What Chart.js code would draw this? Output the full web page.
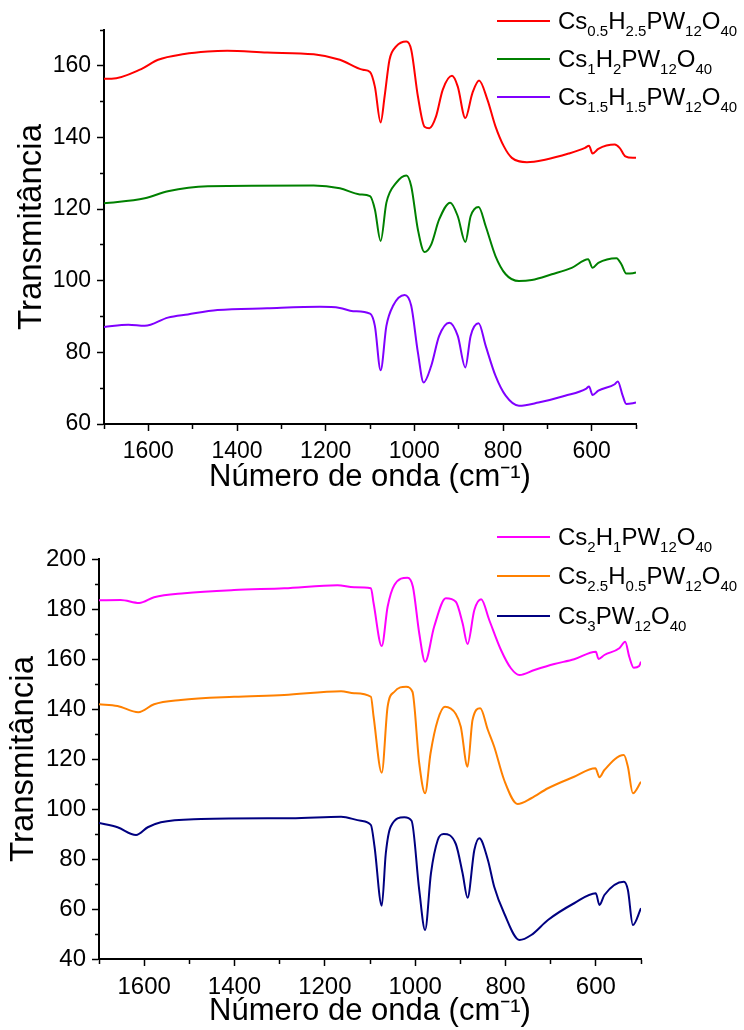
<!DOCTYPE html>
<html>
<head>
<meta charset="utf-8">
<script src="https://cdn.jsdelivr.net/npm/chart.js@4.4.0/dist/chart.umd.min.js"></script>
<style>
  body { margin: 0; background: #fff; font-family: "Liberation Sans", Arial, sans-serif; }
  #wrap { position: relative; width: 744px; height: 1030px; overflow: hidden; }
  canvas { position: absolute; left: 0; }
  #top { top: 0; }
  #bottom { top: 510px; }
  .legend { position: absolute; left: 497px; }
  .row { display: flex; align-items: center; font-size: 24px; color: #000; white-space: nowrap; }
  .swatch { width: 53px; height: 2px; margin-right: 8px; }
  sub { font-size: 15px; vertical-align: -7px; line-height: 0; }
</style>
</head>
<body>
<div id="wrap">
  <canvas id="top" width="744" height="505"></canvas>
  <canvas id="bottom" width="744" height="520"></canvas>
  <div class="legend" id="legTop" style="top:2px"></div>
  <div class="legend" id="legBottom" style="top:517px"></div>
</div>
<script>
// axis ticks
const xTickLabels = [1600, 1400, 1200, 1000, 800, 600];
const yTickLabelsTop = [60, 80, 100, 120, 140, 160];
const yTickLabelsBottom = [40, 60, 80, 100, 120, 140, 160, 180, 200];

// series names (legend, with subscripts)
const namesTop = [
  'Cs<sub>0.5</sub>H<sub>2.5</sub>PW<sub>12</sub>O<sub>40</sub>',
  'Cs<sub>1</sub>H<sub>2</sub>PW<sub>12</sub>O<sub>40</sub>',
  'Cs<sub>1.5</sub>H<sub>1.5</sub>PW<sub>12</sub>O<sub>40</sub>'
];
const namesBottom = [
  'Cs<sub>2</sub>H<sub>1</sub>PW<sub>12</sub>O<sub>40</sub>',
  'Cs<sub>2.5</sub>H<sub>0.5</sub>PW<sub>12</sub>O<sub>40</sub>',
  'Cs<sub>3</sub>PW<sub>12</sub>O<sub>40</sub>'
];
const colorsTop = ['#ff0000', '#008000', '#8000ff'];
const colorsBottom = ['#ff00ff', '#ff8000', '#000080'];

// Cs0.5H2.5PW12O40
const wnCs05 = [1700, 1683, 1616, 1578, 1519, 1466, 1422, 1332, 1227, 1168, 1116, 1100, 1089, 1076, 1067, 1056, 1041, 1018, 1007, 992, 977, 966, 951, 936, 915, 902, 885, 869, 854, 835, 817, 798, 780, 746, 705, 652, 615, 606, 598, 585, 548, 537, 524, 507, 500];
const tCs05 = [156.4, 156.4, 159.1, 161.7, 163.3, 164.0, 164.2, 163.7, 163.2, 161.7, 158.9, 158.3, 154.2, 144.2, 151.5, 161.7, 165.4, 166.8, 164.5, 151.5, 143.0, 142.6, 145.9, 153.3, 157.2, 154.2, 145.4, 152.4, 155.9, 150.5, 143.1, 137.5, 134.3, 133.1, 133.8, 135.5, 137.1, 137.7, 135.5, 136.8, 138.0, 137.1, 134.7, 134.3, 134.3];

// Cs1H2PW12O40
const wnCs1 = [1700, 1608, 1556, 1466, 1227, 1168, 1123, 1100, 1089, 1076, 1063, 1041, 1018, 1007, 992, 977, 962, 944, 919, 902, 885, 873, 855, 839, 817, 794, 764, 735, 690, 645, 608, 598, 585, 544, 533, 522, 507, 500];
const tCs1 = [121.6, 123.0, 125.0, 126.4, 126.6, 125.8, 124.1, 123.6, 119.9, 111.1, 121.8, 127.3, 129.4, 126.4, 114.3, 108.0, 110.1, 117.1, 121.8, 118.0, 110.8, 118.0, 120.6, 115.2, 106.9, 101.8, 99.9, 100.2, 101.8, 103.6, 106.0, 103.6, 105.0, 106.3, 104.6, 102.0, 102.1, 102.3];

// Cs1.5H1.5PW12O40
const wnCs15 = [1700, 1645, 1608, 1556, 1511, 1444, 1332, 1213, 1168, 1138, 1100, 1089, 1076, 1063, 1048, 1022, 1007, 992, 979, 962, 944, 921, 902, 885, 873, 855, 839, 817, 794, 764, 720, 660, 612, 606, 598, 585, 548, 541, 530, 522, 507, 500];
const tCs15 = [87.1, 87.7, 87.4, 89.7, 90.6, 91.8, 92.3, 92.7, 92.4, 91.5, 90.8, 87.4, 75.0, 87.4, 93.0, 96.0, 93.0, 80.0, 71.6, 76.2, 84.6, 88.3, 84.6, 75.8, 84.6, 88.1, 81.8, 73.5, 67.9, 65.1, 66.0, 67.9, 69.9, 70.5, 68.1, 69.3, 71.1, 71.9, 67.9, 65.6, 65.8, 66.0];

// Cs2H1PW12O40
const wnCs2 = [1700, 1652, 1611, 1578, 1511, 1401, 1290, 1172, 1135, 1098, 1092, 1074, 1061, 1046, 1017, 1005, 991, 978, 958, 932, 910, 895, 884, 869, 854, 836, 810, 788, 769, 736, 692, 648, 600, 594, 581, 548, 535, 526, 516, 504, 500];
const tCs2 = [183.5, 183.6, 182.4, 184.7, 186.3, 187.6, 188.3, 189.5, 188.7, 188.3, 182.3, 165.2, 180.9, 189.6, 192.5, 188.9, 170.3, 158.9, 172.9, 184.3, 182.9, 174.3, 166.0, 179.6, 183.9, 175.6, 163.6, 156.3, 153.6, 155.6, 158.0, 159.9, 162.9, 160.0, 161.6, 164.3, 166.9, 160.9, 156.5, 157.2, 158.9];

// Cs2.5H0.5PW12O40
const wnCs25 = [1700, 1659, 1613, 1578, 1519, 1401, 1290, 1164, 1135, 1098, 1092, 1074, 1061, 1046, 1020, 1006, 991, 978, 966, 950, 934, 910, 899, 884, 873, 856, 839, 825, 803, 773, 743, 706, 648, 601, 592, 581, 538, 529, 518, 500];
const tCs25 = [141.9, 141.2, 138.7, 141.9, 143.6, 144.9, 145.6, 147.1, 146.3, 144.9, 136.9, 114.5, 140.9, 146.9, 148.9, 146.9, 118.3, 106.3, 122.3, 135.6, 140.9, 138.0, 132.9, 116.9, 135.6, 140.3, 131.6, 124.9, 111.6, 102.0, 104.3, 108.3, 112.9, 116.3, 112.7, 115.6, 121.6, 116.9, 106.3, 110.9];

// Cs3PW12O40
const wnCs3 = [1700, 1659, 1618, 1592, 1563, 1474, 1327, 1275, 1164, 1120, 1098, 1090, 1074, 1065, 1054, 1024, 1008, 991, 978, 965, 950, 937, 910, 895, 884, 869, 858, 839, 825, 803, 769, 743, 706, 648, 600, 592, 581, 538, 529, 518, 500];
const tCs3 = [94.4, 92.7, 89.6, 92.7, 94.7, 96.0, 96.3, 96.3, 96.9, 95.3, 93.6, 85.0, 61.3, 82.3, 93.0, 96.7, 95.3, 67.6, 51.6, 74.3, 87.6, 90.0, 86.0, 74.3, 64.5, 83.6, 88.3, 79.6, 68.9, 58.3, 47.6, 49.6, 55.6, 62.3, 66.3, 61.6, 65.6, 70.9, 67.6, 53.6, 60.3];

const FONT = "'Liberation Sans', Arial, sans-serif";
const TL = 7;

function toPoints(w, t) {
  return w.map((x, i) => ({ x: x, y: t[i] }));
}

function makeChart(id, datasets, yMin, yMax, yLabels, box) {
  return new Chart(document.getElementById(id), {
    type: 'line',
    data: {
      datasets: datasets.map(d => ({
        label: d.label,
        data: d.data,
        borderColor: d.color,
        borderWidth: 2,
        pointRadius: 0,
        fill: false,
        cubicInterpolationMode: 'monotone'
      }))
    },
    options: {
      responsive: false,
      animation: false,
      devicePixelRatio: 1,
      layout: { padding: { top: box.top, right: box.right, left: 0, bottom: 0 } },
      plugins: { legend: { display: false }, tooltip: { enabled: false } },
      scales: {
        x: {
          type: 'linear',
          reverse: true,
          min: 500,
          max: 1700,
          afterFit: s => { s.height = box.xh; },
          border: { color: '#000', width: 2 },
          grid: {
            drawOnChartArea: false,
            tickLength: TL,
            tickColor: '#000',
            tickWidth: 1.5,
            tickBorderDash: c => (c.tick && xTickLabels.includes(c.tick.value)) ? [] : [4, 50]
          },
          ticks: {
            stepSize: 100,
            autoSkip: false,
            maxRotation: 0,
            color: '#000',
            padding: 7,
            font: { size: box.fs, family: FONT },
            callback: v => xTickLabels.includes(v) ? String(v) : ''
          },
          title: {
            display: true,
            text: 'Número de onda (cm⁻¹)',
            color: '#000',
            font: { size: 31, family: FONT },
            padding: { top: 0, bottom: box.xtp }
          }
        },
        y: {
          min: yMin,
          max: yMax,
          afterFit: s => { s.width = box.yw; },
          border: { color: '#000', width: 2 },
          grid: {
            drawOnChartArea: false,
            tickLength: TL,
            tickColor: '#000',
            tickWidth: 1.5,
            tickBorderDash: c => (c.tick && yLabels.includes(c.tick.value)) ? [] : [0, TL - 4, 4, 50]
          },
          ticks: {
            stepSize: 10,
            autoSkip: false,
            color: '#000',
            padding: 6,
            font: { size: box.fs, family: FONT },
            callback: v => yLabels.includes(v) ? String(v) : ''
          },
          title: {
            display: true,
            text: 'Transmitância',
            color: '#000',
            font: { size: 33, family: FONT },
            padding: { top: box.ytp, bottom: 0 }
          }
        }
      }
    }
  });
}

function makeLegend(id, names, colors, rowH) {
  const el = document.getElementById(id);
  names.forEach((n, i) => {
    const row = document.createElement('div');
    row.className = 'row';
    row.style.height = rowH + 'px';
    row.innerHTML = '<span class="swatch" style="background:' + colors[i] + '"></span><span>' + n + '</span>';
    el.appendChild(row);
  });
}

makeChart('top', [
  { label: 'Cs0.5H2.5PW12O40', data: toPoints(wnCs05, tCs05), color: colorsTop[0] },
  { label: 'Cs1H2PW12O40', data: toPoints(wnCs1, tCs1), color: colorsTop[1] },
  { label: 'Cs1.5H1.5PW12O40', data: toPoints(wnCs15, tCs15), color: colorsTop[2] }
], 60, 170, yTickLabelsTop, { top: 30, right: 108, xh: 81, yw: 104, xtp: 9, ytp: 12, fs: 23 });

makeChart('bottom', [
  { label: 'Cs2H1PW12O40', data: toPoints(wnCs2, tCs2), color: colorsBottom[0] },
  { label: 'Cs2.5H0.5PW12O40', data: toPoints(wnCs25, tCs25), color: colorsBottom[1] },
  { label: 'Cs3PW12O40', data: toPoints(wnCs3, tCs3), color: colorsBottom[2] }
], 40, 200, yTickLabelsBottom, { top: 49, right: 103, xh: 71, yw: 99, xtp: 0, ytp: 4, fs: 24 });

makeLegend('legTop', namesTop, colorsTop, 38);
makeLegend('legBottom', namesBottom, colorsBottom, 39.5);
</script>
</body>
</html>
